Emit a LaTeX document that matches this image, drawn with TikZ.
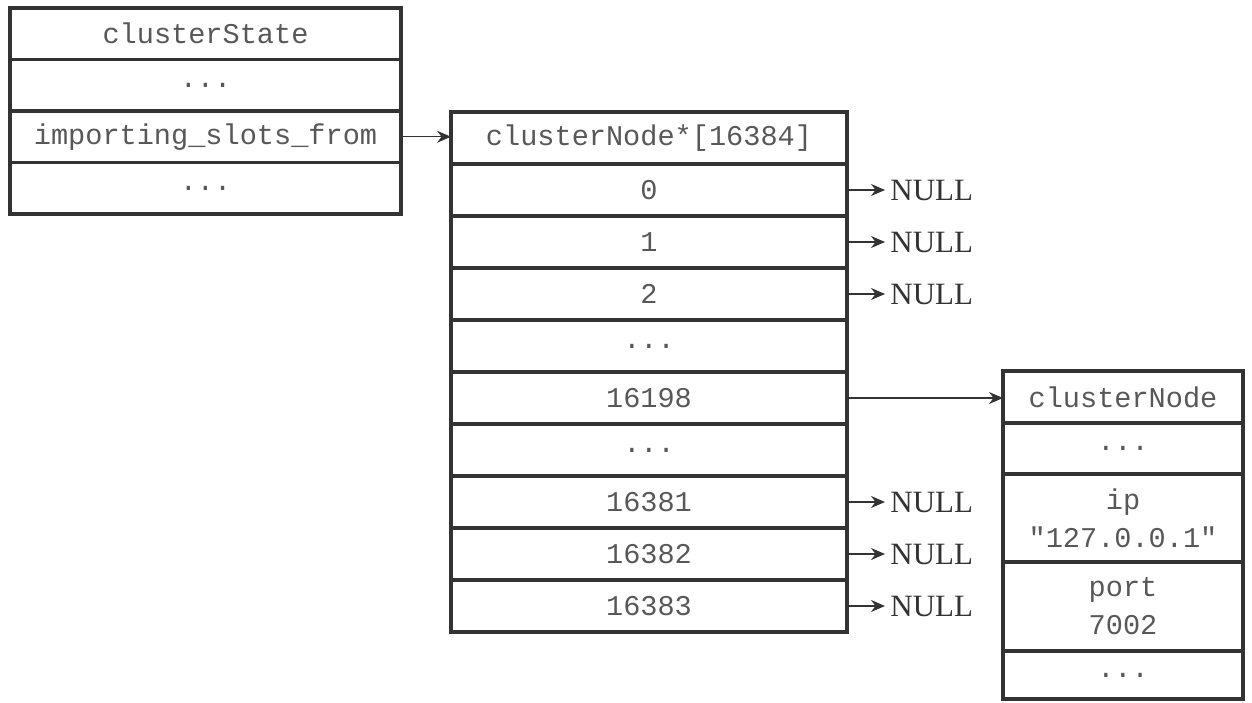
\documentclass[tikz,border=0pt]{standalone}
\usepackage{fontspec}
\setmainfont{Liberation Serif}
\setmonofont{Liberation Mono}
\usepackage{tikz}
\usetikzlibrary{arrows.meta,positioning,calc}
\definecolor{edge}{RGB}{51,51,51}
\definecolor{ink}{RGB}{88,88,88}
\tikzset{
  cell/.style={draw=edge, line width=1.6pt, fill=white, align=center, outer sep=0pt, inner sep=0pt,
    text=ink, font=\ttfamily\fontsize{14.3}{19}\selectfont},
  lcell/.style={cell, minimum width=195.5pt, minimum height=25.75pt},
  acell/.style={cell, minimum width=198pt, minimum height=26pt},
  rcell/.style={cell, minimum width=120pt},
  ptr/.style={draw=edge, line width=0.6pt, -{Stealth[length=7pt,width=6pt]}},
  nul/.style={font=\fontsize{15.5}{18}\selectfont, text=edge, anchor=west, inner sep=2.5pt}
}
\begin{document}
\begin{tikzpicture}[x=0.5pt,y=-0.5pt]
  \useasboundingbox (0,0) rectangle (1252,702);
  % clusterState
  \node[lcell, anchor=north west] (cs0) at (10,8) {clusterState};
  \node[lcell, below=0pt of cs0] (cs1) {...};
  \node[lcell, below=0pt of cs1] (cs2) {importing\_slots\_from};
  \node[lcell, below=0pt of cs2] (cs3) {...};
  % 槽数组
  \node[acell, anchor=north west] (head) at (451,112) {clusterNode*[16384]};
  \node[acell, below=0pt of head] (s0) {0};
  \node[acell, below=0pt of s0] (s1) {1};
  \node[acell, below=0pt of s1] (s2) {2};
  \node[acell, below=0pt of s2] (d1) {...};
  \node[acell, below=0pt of d1] (s16198) {16198};
  \node[acell, below=0pt of s16198] (d2) {...};
  \node[acell, below=0pt of d2] (s16381) {16381};
  \node[acell, below=0pt of s16381] (s16382) {16382};
  \node[acell, below=0pt of s16382] (s16383) {16383};
  % clusterNode
  \node[rcell, minimum height=26pt, anchor=north west] (cn0) at (1003,371) {clusterNode};
  \node[rcell, minimum height=25.5pt, below=0pt of cn0] (cn1) {...};
  \node[rcell, minimum height=44pt, below=0pt of cn1] (cn2) {ip\\"127.0.0.1"};
  \node[rcell, minimum height=44.5pt, below=0pt of cn2] (cn3) {port\\7002};
  \node[rcell, minimum height=24pt, below=0pt of cn3] (cn4) {...};
  % 指针
  \draw[ptr] (cs2.east) -- (cs2.east -| head.west);
  \draw[ptr] (s16198.east) -- (s16198.east -| cn0.west);
  \foreach \s/\n in {s0/n0, s1/n1, s2/n2, s16381/n3, s16382/n4, s16383/n5}{
    \node[nul] (\n) at ($(\s.east)+(38,0)$) {NULL};
    \draw[ptr] (\s.east) -- (\n.west);
  }
\end{tikzpicture}
\end{document}
